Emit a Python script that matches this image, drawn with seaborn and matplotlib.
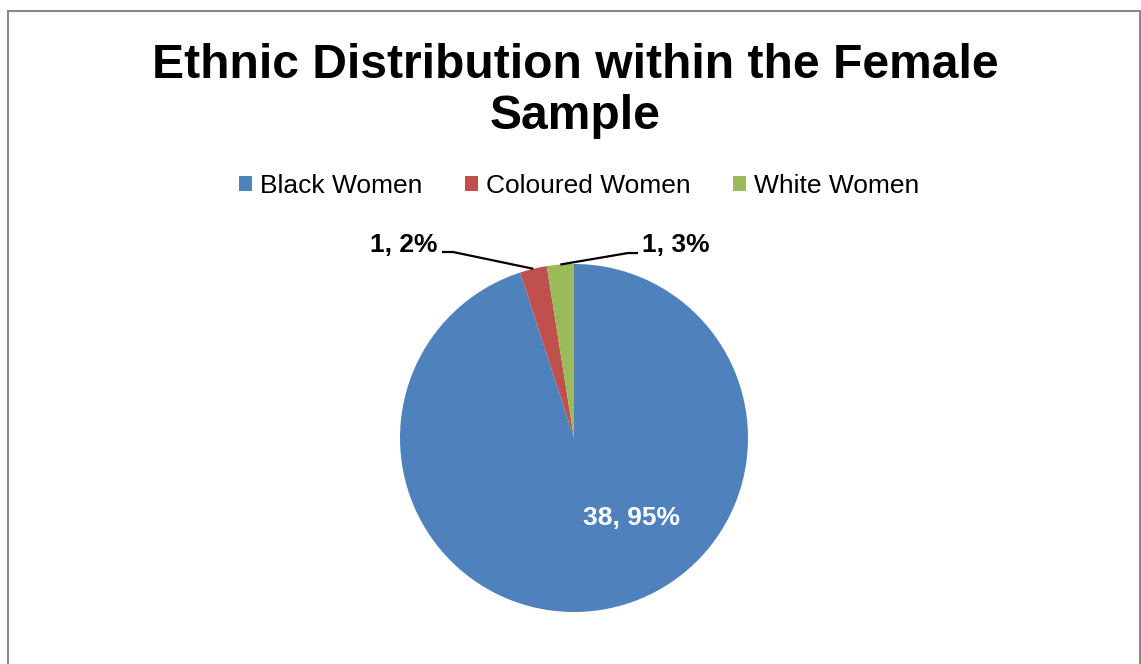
import matplotlib
matplotlib.use("Agg")
import matplotlib.pyplot as plt
from matplotlib.patches import Rectangle
import numpy as np
import seaborn as sns

# Sample composition
groups = ["Black Women", "Coloured Women", "White Women"]
counts = [38, 1, 1]
percent_labels = [95, 2, 3]
colors = ["#4F81BD", "#C0504D", "#9BBB59"]

sns.set_theme(style="white")
plt.rcParams["font.family"] = ["Liberation Sans", "DejaVu Sans"]
plt.rcParams["text.color"] = "black"

W, H = 1141, 664
fig = plt.figure(figsize=(W / 100, H / 100), dpi=100)
fig.patch.set_facecolor("white")

# Outer chart frame
fig.patches.append(Rectangle((8 / W, -0.1), (1140 - 8) / W, 1.1 - 11 / H,
                             transform=fig.transFigure, fill=False,
                             edgecolor="#8a8a8a", linewidth=1.5, clip_on=False))

# Pie axes: centre and radius in pixels
cx, cy, r = 574, 438, 174
lim = 1.3
half = lim * r
ax = fig.add_axes([(cx - half) / W, (H - cy - half) / H, 2 * half / W, 2 * half / H])

wedges, _ = ax.pie(counts, colors=colors, startangle=90, counterclock=False,
                   wedgeprops=dict(linewidth=0))
ax.set_xlim(-lim, lim)
ax.set_ylim(-lim, lim)
ax.axis("off")

labels = [f"{c}, {p}%" for c, p in zip(counts, percent_labels)]

# Large slice label inside the pie
ax.text(0.333, -0.50, labels[0], ha="center", va="baseline",
        fontsize=19, fontweight="bold", color="white")

# Small slices: leader lines from the slice edge to labels above the pie
outside = {
    1: dict(elbow=(-0.695, 1.069), end=(-0.759, 1.069), text=(-0.787, 1.069), ha="right"),
    2: dict(elbow=(0.310, 1.063), end=(0.368, 1.063), text=(0.391, 1.069), ha="left"),
}
for i, spec in outside.items():
    w = wedges[i]
    mid = np.deg2rad((w.theta1 + w.theta2) / 2)
    anchor = (np.cos(mid), np.sin(mid))
    xs = [anchor[0], spec["elbow"][0], spec["end"][0]]
    ys = [anchor[1], spec["elbow"][1], spec["end"][1]]
    ax.plot(xs, ys, color="black", linewidth=1.6, clip_on=False,
            solid_capstyle="butt")
    ax.text(spec["text"][0], spec["text"][1], labels[i], ha=spec["ha"],
            va="baseline", fontsize=19, fontweight="bold", color="black")

# Title
fig.text(575 / W, 1 - 43 / H, "Ethnic Distribution within the Female\nSample",
         ha="center", va="top", fontsize=34.6, fontweight="bold",
         color="black", linespacing=1.17)

# Legend
leg = fig.legend(wedges, groups, loc="center", bbox_to_anchor=(579 / W, 1 - 186 / H),
                 ncol=3, frameon=False, fontsize=19, handlelength=0.5,
                 handleheight=0.5, handletextpad=0.3, columnspacing=1.6,
                 borderpad=0, borderaxespad=0)
for t in leg.get_texts():
    t.set_color("black")

fig.savefig("out.png", dpi=100, facecolor="white")
